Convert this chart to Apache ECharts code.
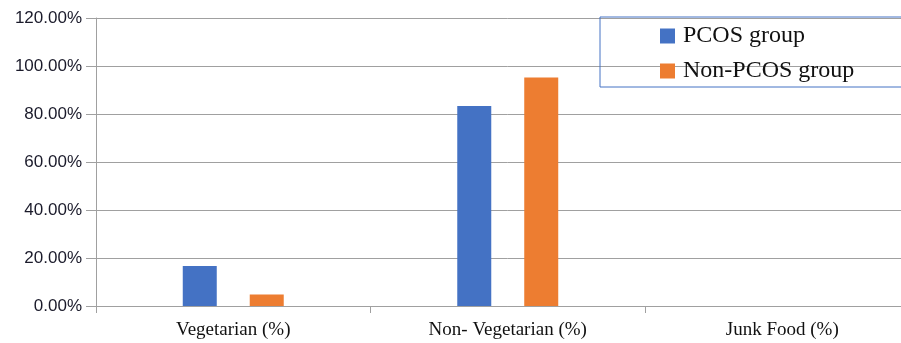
<!DOCTYPE html>
<html>
<head>
<meta charset="utf-8">
<script src="https://cdn.jsdelivr.net/npm/echarts@6/dist/echarts.min.js"></script>
<style>
html,body{margin:0;padding:0;background:#fff;overflow:hidden;}
#chart{width:920px;height:343px;}
</style>
</head>
<body>
<div id="chart"></div>
<script>
const categories = ['Vegetarian (%)', 'Non- Vegetarian (%)', 'Junk Food (%)'];
const pcosGroup = [16.67, 83.33, 0];
const nonPcosGroup = [4.76, 95.24, 0];
const seriesNames = ['PCOS group', 'Non-PCOS group'];

const chart = echarts.init(document.getElementById('chart'));
chart.setOption({
  animation: false,
  backgroundColor: '#ffffff',
  grid: { left: 96, top: 18, right: 0.5, height: 288, containLabel: false },
  legend: {
    orient: 'vertical',
    left: 600,
    top: 17,
    padding: [7, 60, 4, 60],
    borderColor: '#4472C4',
    borderWidth: 1,
    itemWidth: 15,
    itemHeight: 15,
    itemGap: 11,
    icon: 'rect',
    textStyle: { fontFamily: 'Liberation Serif', fontSize: 24, color: '#111', lineHeight: 23, padding: [0, 0, 0, 3] },
    data: seriesNames
  },
  xAxis: {
    type: 'category',
    data: categories,
    axisLine: { lineStyle: { color: '#A0A0A0', width: 1 } },
    axisTick: { show: true, length: 7, lineStyle: { color: '#A0A0A0' } },
    axisLabel: { fontFamily: 'Liberation Serif', fontSize: 19, color: '#111', margin: 15 }
  },
  yAxis: {
    type: 'value',
    min: 0,
    max: 120,
    interval: 20,
    axisLine: { show: true, lineStyle: { color: '#A0A0A0', width: 1 } },
    axisTick: { show: true, length: 10, lineStyle: { color: '#A0A0A0' } },
    splitLine: { show: true, lineStyle: { color: '#A0A0A0', width: 1 } },
    axisLabel: {
      fontFamily: 'Liberation Sans', fontSize: 17, color: '#1a1a2a', margin: 14,
      formatter: v => v.toFixed(2) + '%'
    }
  },
  series: [
    { name: seriesNames[0], type: 'bar', data: pcosGroup, barWidth: 34, barGap: '97%', itemStyle: { color: '#4472C4' } },
    { name: seriesNames[1], type: 'bar', data: nonPcosGroup, barWidth: 34, barGap: '97%', itemStyle: { color: '#ED7D31' } }
  ]
});
</script>
</body>
</html>
